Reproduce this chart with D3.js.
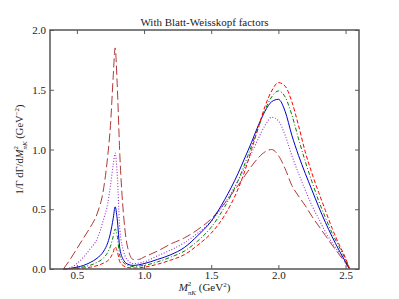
<!DOCTYPE html>
<html><head><meta charset="utf-8">
<script src="https://cdn.jsdelivr.net/npm/d3@7"></script>
<style>
body{margin:0;background:#fff;}
text{font-family:"Liberation Serif","DejaVu Serif",serif;fill:#222;}
</style></head>
<body>
<svg id="c" width="399" height="299"></svg>
<script>
const xs = [0.40,0.45,0.50,0.55,0.60,0.65,0.70,0.73,0.75,0.77,0.785,0.80,0.82,0.85,0.88,0.92,0.96,1.0,1.1,1.2,1.3,1.4,1.5,1.6,1.7,1.75,1.8,1.85,1.9,1.95,2.0,2.05,2.1,2.15,2.2,2.25,2.3,2.35,2.4,2.45,2.5,2.53];
const brownVals  = [0,0.08,0.17,0.26,0.35,0.46,0.68,0.95,1.2,1.6,1.85,1.55,0.95,0.42,0.17,0.08,0.08,0.1,0.15,0.21,0.26,0.33,0.42,0.55,0.70,0.78,0.86,0.93,0.98,1.0,0.95,0.84,0.70,0.61,0.53,0.44,0.36,0.28,0.2,0.125,0.05,0];
const purpleVals = [0,0.01,0.045,0.1,0.17,0.25,0.42,0.55,0.7,0.87,0.97,0.8,0.33,0.14,0.07,0.045,0.05,0.06,0.11,0.16,0.22,0.3,0.4,0.55,0.74,0.85,0.97,1.09,1.2,1.27,1.24,1.12,0.95,0.8,0.66,0.53,0.42,0.31,0.22,0.14,0.06,0];
const blueVals   = [0,0.005,0.015,0.03,0.055,0.09,0.15,0.22,0.3,0.42,0.52,0.42,0.17,0.07,0.04,0.03,0.035,0.045,0.08,0.12,0.18,0.28,0.4,0.58,0.8,0.93,1.06,1.2,1.32,1.4,1.42,1.32,1.12,0.95,0.8,0.66,0.52,0.39,0.27,0.16,0.06,0];
const greenVals  = [0,0.003,0.008,0.018,0.032,0.055,0.095,0.14,0.19,0.27,0.335,0.28,0.11,0.05,0.03,0.02,0.025,0.03,0.06,0.1,0.15,0.235,0.35,0.52,0.74,0.88,1.03,1.18,1.33,1.44,1.49,1.44,1.29,1.09,0.9,0.73,0.57,0.43,0.3,0.19,0.08,0];
const redVals    = [0,0.001,0.004,0.008,0.015,0.028,0.05,0.07,0.095,0.14,0.185,0.15,0.06,0.025,0.012,0.008,0.01,0.015,0.04,0.075,0.12,0.2,0.3,0.45,0.67,0.82,1.0,1.18,1.36,1.49,1.56,1.53,1.4,1.2,0.98,0.8,0.64,0.49,0.34,0.21,0.09,0];
const xTicks = [0.5,1.0,1.5,2.0,2.5];
const yTicks = [0.0,0.5,1.0,1.5,2.0];
const title = "With Blatt-Weisskopf factors";

const series = [
  {vals: brownVals,  color:"#b03838", dash:"9,3.5", w:1},
  {vals: purpleVals, color:"#9932cc", dash:"1,1.8", w:1.1},
  {vals: blueVals,   color:"#0000cc", dash:null, w:1},
  {vals: greenVals,  color:"#008000", dash:"4,2,1,2", w:1},
  {vals: redVals,    color:"#ff0000", dash:"4,2.2", w:1}
];

const L=50, R=359, T=30, B=269;
const svg = d3.select("#c");
const x = d3.scaleLinear().domain([0.3,2.6]).range([L,R]);
const y = d3.scaleLinear().domain([0,2]).range([B,T]);

const line = d3.line().x(d=>x(d[0])).y(d=>y(d[1])).curve(d3.curveMonotoneX);
series.forEach(s=>{
  svg.append("path").datum(xs.map((v,i)=>[v,s.vals[i]]))
    .attr("d",line).attr("fill","none").attr("stroke",s.color)
    .attr("stroke-width",s.w).attr("stroke-dasharray",s.dash);
});

function styleAxis(g){
  g.select(".domain").remove();
  g.attr("font-family",null).attr("font-size",null);
  g.selectAll(".tick line").attr("stroke","#333").attr("stroke-width",0.8);
  g.selectAll(".tick text").style("font-size","11px").attr("fill","#222");
}
const fmt = d3.format(".1f");
svg.append("g").attr("transform",`translate(0,${B})`)
  .call(d3.axisBottom(x).tickValues(xTicks).tickFormat(fmt).tickSizeInner(-4).tickSizeOuter(0).tickPadding(2))
  .call(styleAxis);
svg.append("g").attr("transform",`translate(0,${T})`)
  .call(d3.axisTop(x).tickValues(xTicks).tickFormat("").tickSizeInner(-4).tickSizeOuter(0))
  .call(styleAxis);
svg.append("g").attr("transform",`translate(${L},0)`)
  .call(d3.axisLeft(y).tickValues(yTicks).tickFormat(fmt).tickSizeInner(-4).tickSizeOuter(0).tickPadding(4))
  .call(styleAxis);
svg.append("g").attr("transform",`translate(${R},0)`)
  .call(d3.axisRight(y).tickValues(yTicks).tickFormat("").tickSizeInner(-4).tickSizeOuter(0))
  .call(styleAxis);

svg.append("rect").attr("x",L).attr("y",T).attr("width",R-L).attr("height",B-T)
  .attr("fill","none").attr("stroke","#555").attr("stroke-width",1.5);

svg.append("text").attr("x",(L+R)/2).attr("y",26).attr("text-anchor","middle")
  .style("font-size","11px").text(title);

// x label
const xl = svg.append("text").attr("x",(L+R)/2).attr("y",291).attr("text-anchor","middle").style("font-size","11px");
xl.append("tspan").style("font-style","italic").text("M");
xl.append("tspan").attr("dy",-5).style("font-size","7px").text("2");
xl.append("tspan").attr("dx",-3.5).attr("dy",8.5).style("font-size","7px").style("font-style","italic").text("πK");
xl.append("tspan").attr("dy",-3.5).text(" (GeV");
xl.append("tspan").attr("dy",-4.5).style("font-size","7px").text("2");
xl.append("tspan").attr("dy",4.5).text(")");

// y label
const yl = svg.append("text").attr("transform",`translate(23,${(T+B)/2}) rotate(-90)`).attr("text-anchor","middle").style("font-size","10.5px");
yl.append("tspan").text("1/Γ  dΓ/d");
yl.append("tspan").style("font-style","italic").text("M");
yl.append("tspan").attr("dy",-5).style("font-size","7px").text("2");
yl.append("tspan").attr("dx",-3.5).attr("dy",8.5).style("font-size","7px").style("font-style","italic").text("πK");
yl.append("tspan").attr("dy",-3.5).text(" (GeV");
yl.append("tspan").attr("dy",-4.5).style("font-size","7px").text("−2");
yl.append("tspan").attr("dy",4.5).text(")");
</script>
</body></html>
